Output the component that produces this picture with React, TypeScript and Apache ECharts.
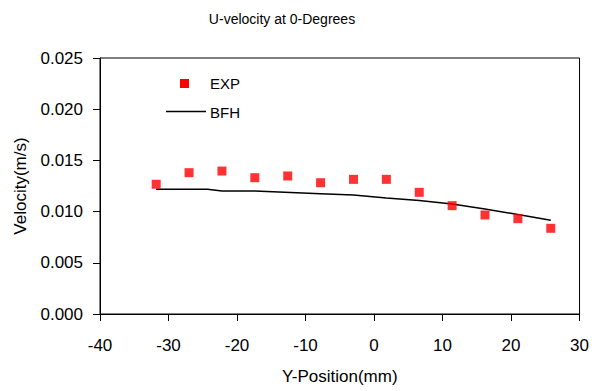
import React, { useEffect, useRef } from "react";
import * as echarts from "echarts";

const expX = [-31.8, -27.0, -22.2, -17.4, -12.6, -7.8, -3.0, 1.8, 6.6, 11.4, 16.2, 21.0, 25.8];
const expY = [0.01267, 0.0138, 0.01396, 0.01331, 0.01348, 0.01282, 0.01315, 0.01315, 0.01188, 0.01058, 0.00967, 0.00931, 0.00837];

const bfhX = [-31.8, -27.0, -24.3, -22.2, -17.4, -7.8, -3.0, 1.8, 6.6, 11.4, 16.2, 21.0, 25.8];
const bfhY = [0.01218, 0.01218, 0.01218, 0.01201, 0.01201, 0.01175, 0.01162, 0.01133, 0.01108, 0.01074, 0.01025, 0.00972, 0.00915];

const FONT = "'Liberation Sans', Arial, sans-serif";

export default function App() {
  const ref = useRef<HTMLDivElement>(null);
  useEffect(() => {
    if (!ref.current) return;
    const chart = echarts.init(ref.current, undefined, { renderer: "svg" });
    chart.setOption({
      animation: false,
      backgroundColor: "#ffffff",
      title: {
        text: "U-velocity at 0-Degrees",
        left: 277,
        textAlign: "center",
        top: 7,
        textStyle: { fontFamily: FONT, fontSize: 14, fontWeight: "normal", color: "#000" },
      },
      grid: {
        left: 100,
        right: 10,
        top: 58,
        bottom: 77,
        show: true,
        borderColor: "#000",
        borderWidth: 1,
        backgroundColor: "transparent",
      },
      xAxis: {
        type: "value",
        min: -40,
        max: 30,
        interval: 10,
        name: "Y-Position(mm)",
        nameLocation: "middle",
        nameGap: 54,
        nameTextStyle: { fontFamily: FONT, fontSize: 17, color: "#000" },
        axisLine: { show: true, onZero: false, lineStyle: { color: "#000", width: 1 } },
        axisTick: { show: true, length: 7, lineStyle: { color: "#000" } },
        axisLabel: { fontFamily: FONT, fontSize: 17, color: "#000", margin: 23 },
        splitLine: { show: false },
      },
      yAxis: {
        type: "value",
        min: 0,
        max: 0.025,
        interval: 0.005,
        name: "Velocity(m/s)",
        nameLocation: "middle",
        nameGap: 71,
        nameTextStyle: { fontFamily: FONT, fontSize: 17, color: "#000" },
        axisLine: { show: true, onZero: false, lineStyle: { color: "#000", width: 1 } },
        axisTick: { show: true, length: 7, lineStyle: { color: "#000" } },
        axisLabel: {
          fontFamily: FONT,
          fontSize: 17,
          color: "#000",
          margin: 17,
          formatter: (v: number) => v.toFixed(3),
        },
        splitLine: { show: false },
      },
      series: [
        {
          name: "BFH",
          type: "line",
          data: bfhX.map((x, i) => [x, bfhY[i]]),
          showSymbol: false,
          symbol: "none",
          lineStyle: { color: "#000", width: 1.5 },
          z: 2,
        },
        {
          name: "EXP",
          type: "scatter",
          data: expX.map((x, i) => [x, expY[i]]),
          symbol: "rect",
          symbolSize: 9,
          itemStyle: { color: "#ff0000" },
          z: 3,
        },
      ],
      graphic: [
        { type: "rect", shape: { x: 180, y: 79, width: 9, height: 9 }, style: { fill: "#ff0000" } },
        {
          type: "text",
          x: 210,
          y: 83.5,
          style: { text: "EXP", fontFamily: FONT, fontSize: 15, fill: "#000", verticalAlign: "middle" },
        },
        { type: "line", shape: { x1: 166, y1: 111.5, x2: 206, y2: 111.5 }, style: { stroke: "#000", lineWidth: 1.5 } },
        {
          type: "text",
          x: 210,
          y: 112,
          style: { text: "BFH", fontFamily: FONT, fontSize: 15, fill: "#000", verticalAlign: "middle" },
        },
      ],
    });
    return () => chart.dispose();
  }, []);
  return (
    <div
      ref={ref}
      style={{ position: "absolute", left: 0, top: 0, width: 592, height: 391 }}
    />
  );
}
